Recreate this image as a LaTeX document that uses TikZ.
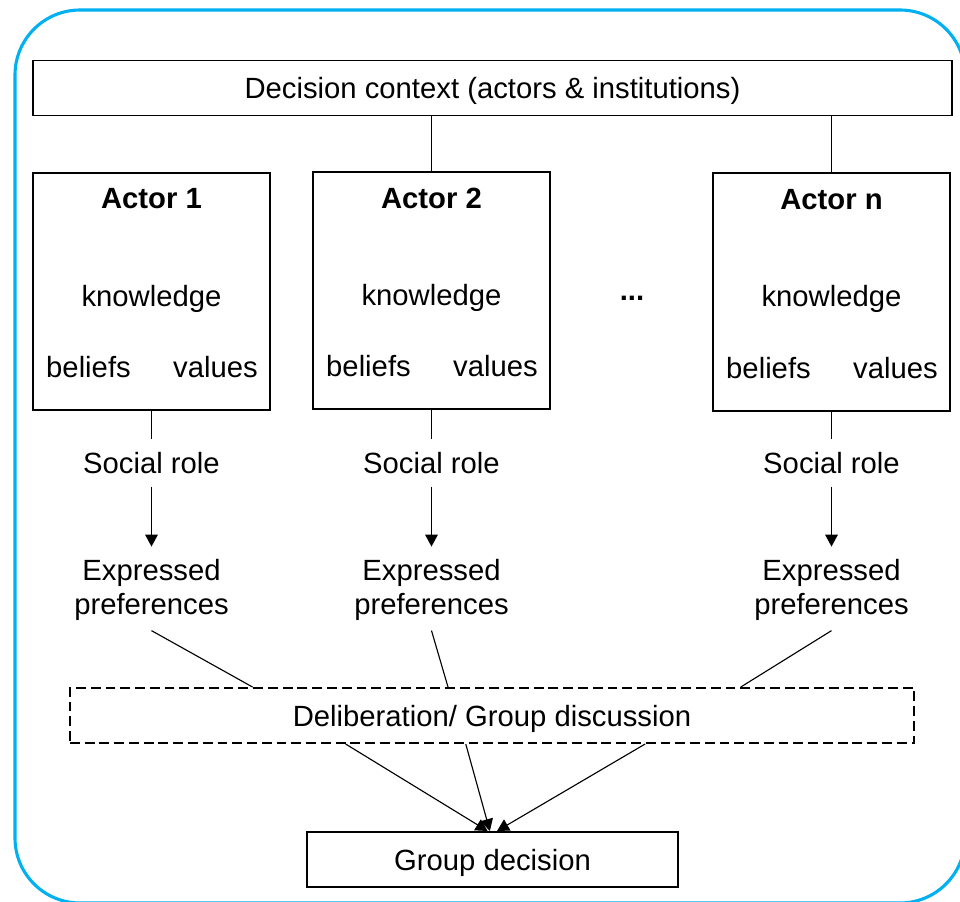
\documentclass[tikz,border=0pt]{standalone}
\usepackage{fontspec}
\setmainfont{Liberation Sans}
\usetikzlibrary{positioning,arrows.meta,calc}
\definecolor{skyblue}{HTML}{00B0F0}
\newcommand\txtsize{\fontsize{20.8}{24}\selectfont}

\begin{document}
\begin{tikzpicture}[x=0.025cm, y=-0.025cm,
    every node/.style={font=\txtsize},
    box/.style={draw, line width=1.4pt, inner sep=0pt, text height=19pt, text depth=3.5pt},
    actorbox/.style={draw, line width=1.4pt, minimum width=5.925cm, minimum height=5.925cm},
    title/.style={font=\txtsize\bfseries},
    rolelbl/.style={inner sep=9pt},
    preflbl/.style={inner sep=7pt, align=center},
    conn/.style={line width=0.8pt},
    arr/.style={conn, -{Triangle[length=8.5pt, width=9pt]}}]
        \useasboundingbox (0,0) rectangle (960,901);
        \draw[skyblue, line width=2.2pt, rounded corners=1.625cm] (15,10) rectangle (965,903);

        \node[box, minimum width=22.975cm, minimum height=1.375cm] (ctx) at (492.5,88) {Decision context (actors \& institutions)};

        % one column per actor
        \foreach \i/\x/\y in {1/151.5/291.5, 2/431.5/290.5, n/831.5/292} {
            \node[actorbox] (a\i) at (\x,\y) {};
            \node[title] (t\i) at ($(a\i.north)+(0,27)$) {Actor \i};
            \node (k\i) at ($(a\i.center)+(0,7)$) {knowledge};
            \node (b\i) at ($(a\i.center)+(-63,76)$) {beliefs};
            \node (v\i) at ($(a\i.center)+(64,76)$) {values};
            \node[rolelbl] (r\i) at (\x,463) {Social role};
            \node[preflbl] (p\i) at (\x,590) {Expressed\\preferences};
            \draw[conn] (a\i.south) -- (r\i.north);
            \draw[arr, shorten >=2pt] (r\i.south) -- (p\i.north);
        }
        \node[title] (dots) at (632,298) {...};

        \draw[conn] (a2.north) -- (a2.north |- ctx.south);
        \draw[conn] (an.north) -- (an.north |- ctx.south);

        \node[box, dash pattern=on 7pt off 3.5pt, minimum width=21.1cm, minimum height=1.375cm] (delib) at (492,715.5) {Deliberation/ Group discussion};
        \node[box, minimum width=9.275cm, minimum height=1.375cm] (gd) at (492.5,859.5) {Group decision};

        \draw[conn] (p1.south) -- ($(delib.north west)!0.217!(delib.north east)$);
        \draw[conn] (p2.south) -- ($(delib.north west)!0.448!(delib.north east)$);
        \draw[conn] (pn.south) -- ($(delib.north west)!0.794!(delib.north east)$);

        \draw[arr] ($(delib.south west)!0.327!(delib.south east)$) -- ($(gd.north west)!0.487!(gd.north east)$);
        \draw[arr] ($(delib.south west)!0.469!(delib.south east)$) -- ($(gd.north west)!0.493!(gd.north east)$);
        \draw[arr] ($(delib.south west)!0.681!(delib.south east)$) -- ($(gd.north west)!0.512!(gd.north east)$);
    \end{tikzpicture}
\end{document}
